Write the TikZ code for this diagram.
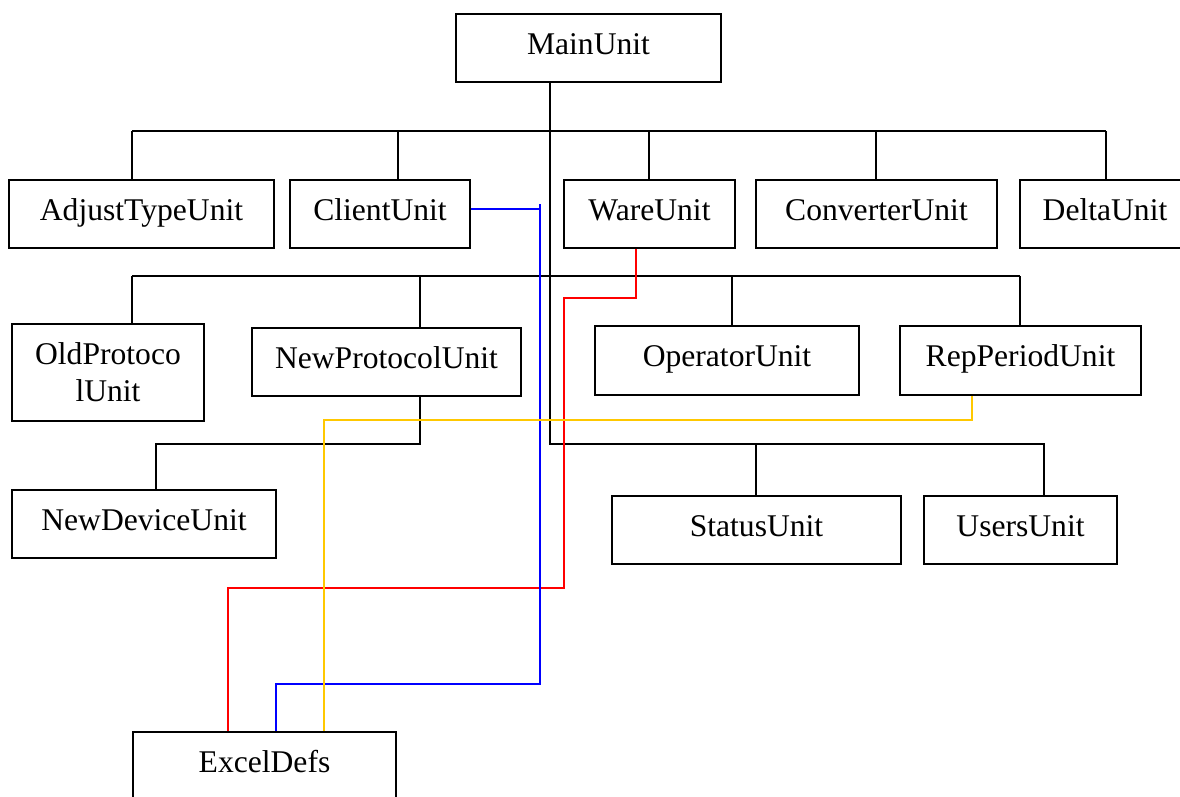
\documentclass[tikz,border=0pt]{standalone}
\usepackage{fontspec}
\setmainfont{Liberation Serif}
\begin{document}
\begin{tikzpicture}[x=1pt,y=-1pt,
  unitbox/.style={draw=black, line width=1.8pt, fill=white, inner sep=0pt,
    align=center, font=\fontsize{31.6}{37}\selectfont},
  oneline/.style={text height=22pt, text depth=10pt},
  tree/.style={draw=black, line width=1.8pt},
  link/.style={line width=1.7pt},
  linkred/.style={link, draw={rgb,255:red,255;green,0;blue,0}},
  linkblue/.style={link, draw={rgb,255:red,0;green,0;blue,255}},
  linkgold/.style={link, draw={rgb,255:red,255;green,200;blue,0}}]
\useasboundingbox (0,0) rectangle (1180,796);
\clip (0,0) rectangle (1180,796);

% units
\node[unitbox, oneline, minimum width=265pt, minimum height=68pt] (main)   at (588.5,48)  {MainUnit};
\node[unitbox, oneline, minimum width=265pt, minimum height=68pt] (adj)    at (141.5,214) {AdjustTypeUnit};
\node[unitbox, oneline, minimum width=180pt, minimum height=68pt] (client) at (380,214)   {ClientUnit};
\node[unitbox, oneline, minimum width=171pt, minimum height=68pt] (ware)   at (649.5,214) {WareUnit};
\node[unitbox, oneline, minimum width=241pt, minimum height=68pt] (conv)   at (876.5,214) {ConverterUnit};
\node[unitbox, oneline, minimum width=170pt, minimum height=68pt] (delta)  at (1105,214)  {DeltaUnit};
\node[unitbox, minimum width=192pt, minimum height=97pt] (old)    at (108,372.5) {OldProtoco\\lUnit};
\node[unitbox, oneline, minimum width=269pt, minimum height=68pt] (newp)   at (386.5,362) {NewProtocolUnit};
\node[unitbox, oneline, minimum width=264pt, minimum height=69pt] (oper)   at (727,360.5) {OperatorUnit};
\node[unitbox, oneline, minimum width=241pt, minimum height=69pt] (rep)    at (1020.5,360.5) {RepPeriodUnit};
\node[unitbox, oneline, minimum width=264pt, minimum height=68pt] (newd)   at (144,524)   {NewDeviceUnit};
\node[unitbox, oneline, minimum width=289pt, minimum height=68pt] (status) at (756.5,530) {StatusUnit};
\node[unitbox, oneline, minimum width=193pt, minimum height=68pt] (users)  at (1020.5,530) {UsersUnit};
\node[unitbox, oneline, minimum width=263pt, minimum height=68pt] (excel)  at (264.5,766) {ExcelDefs};

% bus junctions
\coordinate (trunk) at (550,444);
\coordinate (busA)  at (132,131);
\coordinate (busB)  at (132,276);
\coordinate (npbend) at (420,444);

% main trunk and top-level bus
\draw[tree] (main.south -| trunk) -- (trunk) -- (1044,444) -- (users.north -| 1044,0);
\draw[tree] (756,444) -- (status.north -| 756,0);
\draw[tree] (busA) -- (1106,131);
\draw[tree] (busA) -- (adj.north -| busA);
\draw[tree] (398,131) -- (client.north -| 398,0);
\draw[tree] (649,131) -- (ware.north -| 649,0);
\draw[tree] (876,131) -- (conv.north -| 876,0);
\draw[tree] (1106,131) -- (delta.north -| 1106,0);

% second-level bus
\draw[tree] (busB) -- (1020,276);
\draw[tree] (busB) -- (old.north -| busB);
\draw[tree] (420,276) -- (newp.north -| 420,0);
\draw[tree] (732,276) -- (oper.north -| 732,0);
\draw[tree] (1020,276) -- (rep.north -| 1020,0);

% NewProtocolUnit to NewDeviceUnit
\draw[tree] (newp.south -| npbend) -- (npbend) -- (156,444) -- (newd.north -| 156,0);

% links to ExcelDefs
\draw[linkred] (ware.south -| 636,0) -- (636,298) -- (564,298) -- (564,588) -- (228,588) -- (excel.north -| 228,0);
\draw[linkblue] (client.east |- 0,209) -- (540,209);
\draw[linkblue] (540,204) -- (540,684) -- (276,684) -- (excel.north -| 276,0);
\draw[linkgold] (rep.south -| 972,0) -- (972,420) -- (324,420) -- (excel.north -| 324,0);
\end{tikzpicture}
\end{document}
